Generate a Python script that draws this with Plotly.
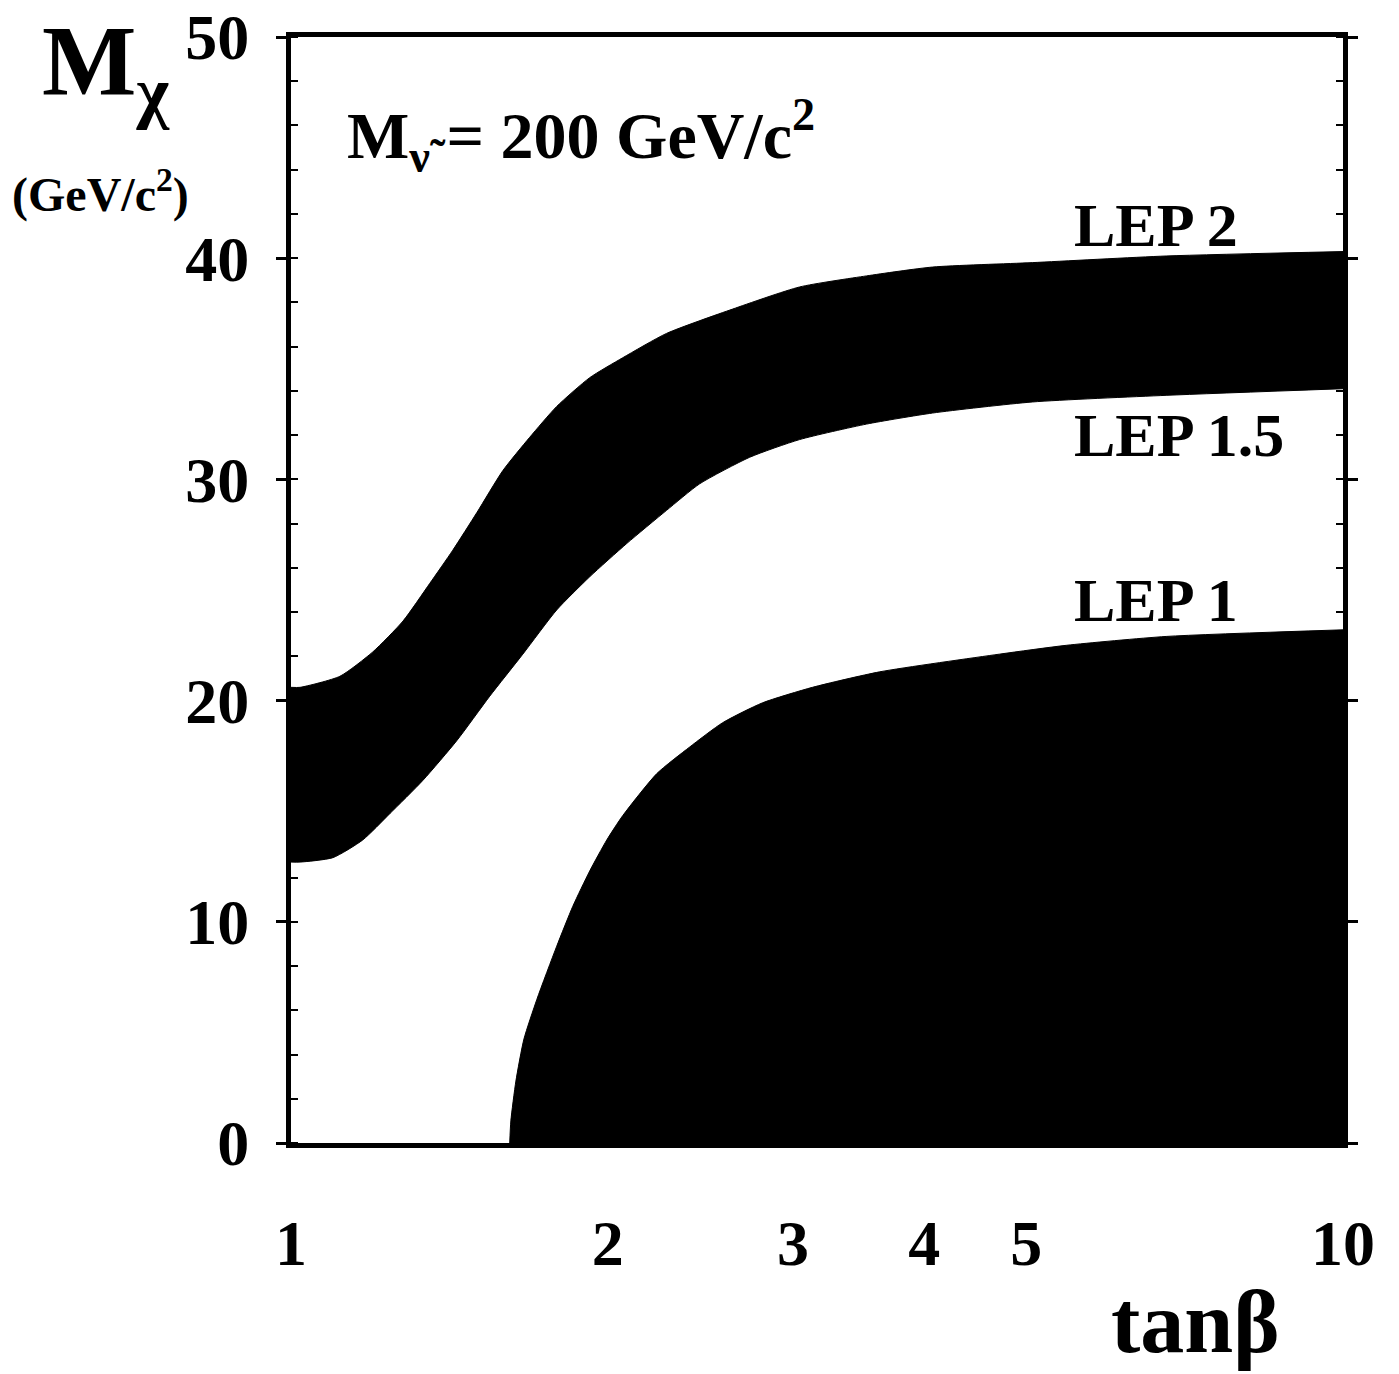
import plotly.graph_objects as go

# ---- data ----
lep2_x = [1.0, 1.020, 1.113, 1.196, 1.278, 1.355, 1.425, 1.502, 1.590, 1.686, 1.789, 1.923,
          2.067, 2.275, 2.629, 3.044, 3.524, 4.072, 5.067, 6.790, 10.0]
lep2_y = [20.6, 20.6, 21.1, 22.2, 23.6, 25.3, 26.8, 28.5, 30.4, 31.9, 33.3, 34.6,
          35.5, 36.6, 37.7, 38.7, 39.2, 39.6, 39.8, 40.1, 40.3]

lep15_x = [1.0, 1.020, 1.096, 1.170, 1.242, 1.335, 1.438, 1.545, 1.661, 1.789, 1.923, 2.085,
           2.275, 2.446, 2.729, 3.044, 3.524, 4.072, 5.067, 6.790, 10.0]
lep15_y = [12.7, 12.7, 12.9, 13.7, 14.9, 16.4, 18.2, 20.2, 22.1, 24.1, 25.6, 27.1,
           28.6, 29.8, 31.0, 31.8, 32.5, 33.0, 33.5, 33.8, 34.1]

lep1_x = [1.614, 1.618, 1.636, 1.665, 1.713, 1.789, 1.853, 1.923, 1.996, 2.067, 2.227, 2.393,
          2.572, 2.807, 3.131, 3.627, 4.714, 5.458, 6.790, 10.0]
lep1_y = [0.0, 1.0, 2.8, 4.7, 6.5, 8.9, 10.7, 12.3, 13.7, 14.8, 16.7, 17.9,
          19.0, 19.9, 20.6, 21.3, 22.1, 22.5, 22.9, 23.2]

x_ticks = [1, 2, 3, 4, 5, 10]
x_tick_labels = ["1", "2", "3", "4", "5", "10"]
y_ticks = [0, 10, 20, 30, 40, 50]
y_tick_labels = ["0", "10", "20", "30", "40", "50"]

# ---- figure geometry ----
W, H = 1399, 1374
L, R, T, B = 291, 1343, 37, 1143

def px(xp):
    return (xp - L) / (R - L)

def py(yp):
    return (B - yp) / (B - T)

FONT = "Liberation Serif"

fig = go.Figure()

# LEP 1.5 curve (lower edge of the band)
fig.add_trace(go.Scatter(x=lep15_x, y=lep15_y, mode="lines",
                         line=dict(color="black", width=1, shape="spline", smoothing=0.6),
                         hoverinfo="skip", showlegend=False))
# LEP 2 curve, filled down to LEP 1.5
fig.add_trace(go.Scatter(x=lep2_x, y=lep2_y, mode="lines", fill="tonexty",
                         fillcolor="black",
                         line=dict(color="black", width=1, shape="spline", smoothing=0.6),
                         hoverinfo="skip", showlegend=False))

# LEP 1 excluded region
fig.add_trace(go.Scatter(x=lep1_x, y=lep1_y, mode="lines", fill="tozeroy",
                         fillcolor="black",
                         line=dict(color="black", width=1, shape="spline", smoothing=0.6),
                         hoverinfo="skip", showlegend=False))

fig.update_xaxes(type="log", range=[0, 1], tickvals=x_ticks, ticktext=x_tick_labels,
                 showgrid=False, zeroline=False, showline=True, linewidth=5,
                 linecolor="black", mirror=True, ticks="", automargin=False,
                 ticklabelstandoff=40,
                 tickfont=dict(family=FONT, size=64, color="black", weight="bold"))
fig.update_yaxes(range=[0, 50], tickvals=y_ticks, ticktext=y_tick_labels,
                 showgrid=False, zeroline=False, showline=True, linewidth=5,
                 linecolor="black", mirror="ticks", ticks="outside", ticklen=10,
                 tickwidth=3, tickcolor="black", automargin=False,
                 minor=dict(ticks="inside", dtick=2, ticklen=7, tickwidth=2,
                            tickcolor="black", showgrid=False),
                 ticklabelstandoff=14,
                 tickfont=dict(family=FONT, size=64, color="black", weight="bold"))

ann = []
def add(text, xp, yp, size, xanchor="left", yanchor="middle"):
    ann.append(dict(text=text, x=px(xp), y=py(yp), xref="paper", yref="paper",
                    xanchor=xanchor, yanchor=yanchor, showarrow=False,
                    font=dict(family=FONT, size=size, color="black")))

add("<b>M<sub>χ</sub></b>", 40, 68, 100)
add("<b>(GeV/c<sup>2</sup>)</b>", 10, 192, 48)
add("<b>M<sub>ν̃</sub> = 200 GeV/c<sup>2</sup></b>", 345, 135, 66)
add("<b>LEP 2</b>", 1072, 225, 62)
add("<b>LEP 1.5</b>", 1072, 435, 62)
add("<b>LEP 1</b>", 1072, 600, 62)
add("<b>tanβ</b>", 1195, 1322, 88, xanchor="center")

fig.update_layout(width=W, height=H,
                  margin=dict(l=L, r=W - R, t=T, b=H - B, pad=0),
                  paper_bgcolor="white", plot_bgcolor="white",
                  annotations=ann, showlegend=False)

fig.write_html("out.html")
